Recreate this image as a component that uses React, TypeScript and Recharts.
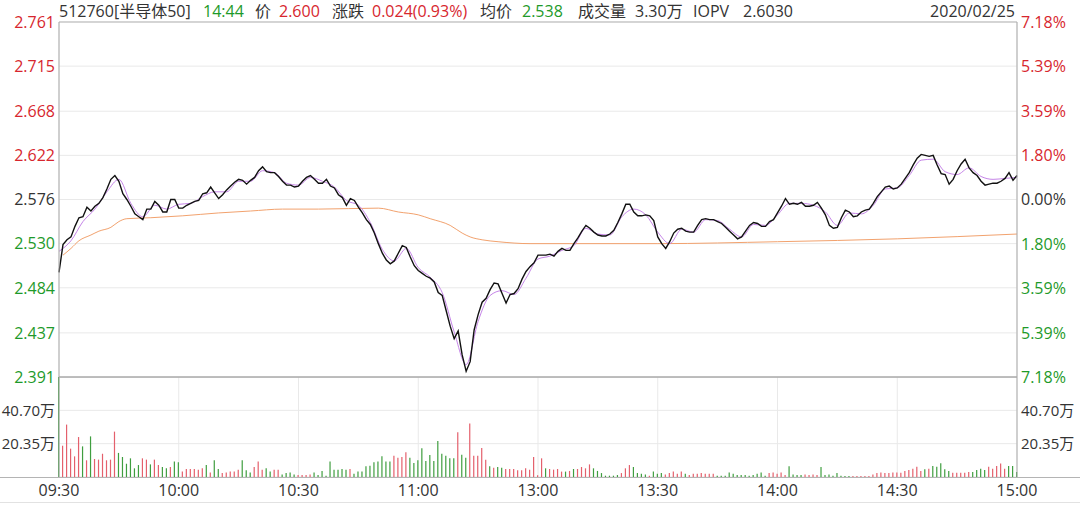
import React from "react";
import {
  ComposedChart,
  Line,
  Bar,
  Cell,
  XAxis,
  YAxis,
  CartesianGrid,
  ReferenceLine,
} from "recharts";

// 颜色
const RED = "#d7262e";
const GREEN = "#1e9a2a";
const GRAY = "#333333";
const BAR_RED = "#e4606c";
const BAR_GREEN = "#3f9e3f";

const preClose = 2.576;

// 标题栏
const headerTexts = ["512760[半导体50]", "14:44", "价", "2.600", "涨跌", "0.024(0.93%)", "均价", "2.538", "成交量", "3.30万", "IOPV", "2.6030"];
const headerColors = [GRAY, GREEN, GRAY, RED, GRAY, RED, GRAY, GREEN, GRAY, GRAY, GRAY, GRAY];
const dateText = "2020/02/25";
// 标题各项左边位置 (px)
const headerLeft = [59, 203, 255, 279, 332, 372, 480, 522, 578, 635, 693, 743];

// 坐标轴
const timeTicks = [0, 30, 60, 90, 120, 150, 180, 210, 240];
const timeLabels = ["09:30", "10:00", "10:30", "11:00", "13:00", "13:30", "14:00", "14:30", "15:00"];
const priceTicks = [2.391, 2.437, 2.484, 2.53, 2.576, 2.622, 2.668, 2.715, 2.761];
const pctTicks = [-7.18, -5.39, -3.59, -1.8, 0, 1.8, 3.59, 5.39, 7.18];
const volTicks = [20.35, 40.7];

// 每分钟价格 (09:30 ~ 15:00, 241 个点)
const prices = [
  2.500, 2.529, 2.534, 2.537, 2.548, 2.557, 2.558, 2.568, 2.564, 2.569,
  2.572, 2.578, 2.587, 2.597, 2.601, 2.595, 2.582, 2.576, 2.569, 2.561,
  2.558, 2.555, 2.566, 2.566, 2.574, 2.570, 2.563, 2.563, 2.576, 2.576,
  2.567, 2.567, 2.570, 2.572, 2.574, 2.575, 2.582, 2.583, 2.589, 2.583,
  2.577, 2.581, 2.586, 2.590, 2.594, 2.597, 2.596, 2.592, 2.596, 2.599,
  2.606, 2.610, 2.605, 2.604, 2.604, 2.600, 2.595, 2.591, 2.591, 2.589,
  2.590, 2.595, 2.599, 2.601, 2.597, 2.593, 2.593, 2.597, 2.590, 2.588,
  2.581, 2.578, 2.570, 2.577, 2.575, 2.568, 2.562, 2.555, 2.550, 2.541,
  2.530, 2.520, 2.513, 2.509, 2.512, 2.520, 2.528, 2.526, 2.516, 2.507,
  2.502, 2.499, 2.496, 2.494, 2.490, 2.479, 2.476, 2.460, 2.444, 2.431,
  2.439, 2.414, 2.397, 2.407, 2.440, 2.456, 2.469, 2.473, 2.482, 2.489,
  2.488, 2.478, 2.468, 2.477, 2.478, 2.483, 2.493, 2.501, 2.506, 2.510,
  2.518, 2.518, 2.518, 2.519, 2.517, 2.522, 2.525, 2.523, 2.523, 2.530,
  2.536, 2.543, 2.549, 2.546, 2.542, 2.539, 2.538, 2.538, 2.540, 2.544,
  2.552, 2.561, 2.571, 2.571, 2.563, 2.559, 2.559, 2.560, 2.559, 2.554,
  2.537, 2.530, 2.525, 2.532, 2.541, 2.545, 2.546, 2.543, 2.542, 2.542,
  2.549, 2.555, 2.556, 2.555, 2.555, 2.553, 2.551, 2.547, 2.543, 2.539,
  2.535, 2.537, 2.543, 2.549, 2.552, 2.551, 2.548, 2.548, 2.553, 2.555,
  2.562, 2.569, 2.577, 2.571, 2.572, 2.571, 2.573, 2.569, 2.569, 2.570,
  2.573, 2.567, 2.560, 2.549, 2.546, 2.547, 2.557, 2.565, 2.563, 2.558,
  2.559, 2.563, 2.565, 2.566, 2.572, 2.579, 2.584, 2.589, 2.590, 2.587,
  2.588, 2.592, 2.598, 2.604, 2.612, 2.619, 2.623, 2.622, 2.621, 2.622,
  2.612, 2.603, 2.602, 2.592, 2.597, 2.606, 2.613, 2.618, 2.609, 2.604,
  2.601, 2.595, 2.591, 2.592, 2.593, 2.593, 2.595, 2.598, 2.604, 2.596,
  2.601,
];

// IOPV 线 (每 3 分钟读一次)
const iopvValues = [
  2.522, 2.533, 2.553, 2.566, 2.584, 2.597, 2.572, 2.558, 2.570, 2.566,
  2.571, 2.572, 2.579, 2.584, 2.584, 2.595, 2.595, 2.606, 2.604, 2.593,
  2.591, 2.599, 2.595, 2.589, 2.575, 2.570, 2.552, 2.524, 2.512, 2.525,
  2.505, 2.495, 2.479, 2.438, 2.404, 2.449, 2.476, 2.481, 2.477, 2.494,
  2.514, 2.517, 2.523, 2.528, 2.546, 2.540, 2.539, 2.558, 2.566, 2.560,
  2.542, 2.530, 2.545, 2.542, 2.555, 2.554, 2.545, 2.537, 2.550, 2.549,
  2.560, 2.572, 2.572, 2.570, 2.563, 2.549, 2.562, 2.561, 2.570, 2.587,
  2.588, 2.601, 2.617, 2.618, 2.605, 2.602, 2.609, 2.600, 2.597, 2.598,
  2.599,
];

// 均价线
const avgTimes = [1, 3, 5, 8, 10, 13, 15, 17, 23, 31, 40, 48, 56, 65, 80, 85, 90, 93, 98, 101, 103, 106, 110, 118, 128, 150, 180, 210, 240];
const avgValues = [2.518, 2.525, 2.533, 2.539, 2.543, 2.547, 2.553, 2.556, 2.557, 2.559, 2.562, 2.564, 2.566, 2.566, 2.567, 2.563, 2.560, 2.556, 2.549, 2.541, 2.537, 2.534, 2.532, 2.530, 2.530, 2.530, 2.532, 2.535, 2.540];

// 每分钟成交量 (万)
const volumes = [
  61.0, 19.1, 32.0, 17.3, 12.6, 24.4, 18.7, 10.2, 24.8, 11.0,
  10.6, 14.2, 10.2, 10.6, 27.7, 14.7, 12.2, 8.1, 11.4, 5.3,
  7.3, 11.4, 10.6, 7.7, 10.6, 7.3, 6.1, 5.3, 6.1, 9.4,
  9.0, 3.3, 4.9, 4.9, 4.9, 4.5, 5.3, 7.3, 2.8, 10.2,
  4.9, 2.4, 2.8, 3.3, 3.3, 4.5, 10.2, 4.1, 2.8, 6.1,
  9.4, 4.5, 5.3, 3.3, 4.5, 4.5, 1.6, 2.4, 2.8, 1.6,
  1.2, 1.2, 1.2, 1.6, 2.8, 1.2, 3.7, 0.8, 9.4, 4.5,
  4.5, 4.9, 4.5, 4.9, 2.0, 3.3, 3.3, 6.5, 6.9, 9.0,
  9.4, 12.6, 9.4, 9.4, 13.0, 11.8, 12.2, 15.1, 11.8, 8.5,
  10.2, 17.5, 9.8, 13.4, 9.8, 22.0, 14.2, 13.0, 11.4, 11.4,
  27.3, 13.6, 11.8, 32.6, 13.0, 13.0, 17.7, 10.6, 6.5, 5.7,
  6.1, 5.7, 4.9, 4.9, 4.9, 4.1, 4.1, 5.3, 4.5, 12.2,
  1.0, 11.4, 5.3, 4.9, 4.5, 4.9, 3.3, 3.3, 3.7, 4.9,
  4.9, 6.1, 5.3, 7.7, 5.3, 3.7, 2.4, 0.8, 0.8, 0.8,
  1.2, 2.4, 5.3, 7.3, 6.1, 2.4, 2.0, 1.6, 0.8, 3.3,
  2.0, 2.4, 1.6, 2.4, 3.3, 2.0, 3.3, 2.0, 1.2, 2.0,
  2.0, 2.4, 2.0, 2.0, 2.0, 0.8, 0.8, 0.8, 2.8, 2.0,
  1.2, 1.2, 1.2, 0.8, 1.2, 2.0, 2.8, 0.8, 2.4, 2.8,
  2.0, 2.8, 1.2, 6.5, 1.6, 1.2, 1.2, 1.6, 1.2, 1.6,
  1.2, 6.1, 1.2, 1.6, 0.8, 2.4, 0.8, 0.6, 0.6, 0.6,
  0.6, 0.6, 0.6, 0.6, 1.6, 2.4, 2.8, 2.4, 2.4, 2.8,
  2.8, 2.6, 3.7, 4.3, 5.1, 6.3, 3.7, 4.7, 5.1, 6.7,
  6.3, 8.4, 4.7, 3.7, 2.6, 2.6, 2.6, 2.6, 3.0, 3.0,
  4.3, 5.1, 4.3, 6.3, 5.1, 6.7, 8.2, 5.1, 6.7, 6.7,
  3.0,
];

// 涨(r) / 跌(g)
const volSide = [
  "g", "rrrrr", "g", "r", "g", "rrrrrr", "gggggg", "rr", "g", "rr", "gg", "r", "gg",
  "rrrrrr", "g", "r", "gg", "rrrrr", "ggg", "rrr", "gg", "rr", "gggg", "rrrr",
  "ggggggggg", "r", "gggggggggg", "rrrr", "gggggggggggg", "r", "gg", "rrrrr", "g", "r", "gg",
  "rrrrrrrrrr", "g", "rrrr", "g", "r", "g", "rrrr", "ggggggg", "rrr", "gggg", "r", "ggg",
  "rrrrr", "g", "rrrrrrr", "ggggggggggggg", "rrrrr", "gggg", "rrrr", "gggggggg",
  "rrrrrrrrrrrr", "rrrrrr", "g", "r", "ggggg", "rrrrr", "gggg", "rrrrr", "ggg",
].join("");

const priceData = prices.map((price, m) => ({ m, price }));
const iopvData = iopvValues.map((iopv, i) => ({ m: i * 3, iopv }));
const avgData = avgTimes.map((m, i) => ({ m, avg: avgValues[i] }));
const volData = volumes.map((vol, m) => ({ m, vol }));

const FONT = '"Open Sans", "Noto Sans CJK SC", sans-serif';

const PriceTick = (props: any) => {
  const { x, y, payload } = props;
  const v = payload.value;
  const color = v > preClose + 1e-6 ? RED : v < preClose - 1e-6 ? GREEN : GRAY;
  return (
    <text x={x} y={y} dy="0.36em" textAnchor="end" fill={color} fontSize={16}>
      {v.toFixed(3)}
    </text>
  );
};

const PctTick = (props: any) => {
  const { x, y, payload } = props;
  const v = payload.value;
  const color = v > 0 ? RED : v < 0 ? GREEN : GRAY;
  return (
    <text x={x} y={y} dy="0.36em" textAnchor="start" fill={color} fontSize={16}>
      {Math.abs(v).toFixed(2) + "%"}
    </text>
  );
};

const VolTick = (props: any) => {
  const { x, y, payload, anchor } = props;
  return (
    <text x={x} y={y} dy="0.36em" textAnchor={anchor} fill={GRAY} fontSize={15}>
      {payload.value.toFixed(2) + "万"}
    </text>
  );
};

export default function App() {
  return (
    <div
      style={{
        position: "absolute",
        top: 0,
        left: 0,
        width: 1080,
        height: 506,
        background: "#fff",
        fontFamily: FONT,
        overflow: "hidden",
      }}
    >
      {/* 成交量 */}
      <div style={{ position: "absolute", top: 377, left: 0 }}>
        <ComposedChart width={1080} height={129} data={volData} margin={{ top: 0, right: 0, left: 0, bottom: 0 }}>
          <CartesianGrid stroke="#e9e9e9" yAxisId="v" />
          <XAxis
            dataKey="m"
            type="number"
            domain={[0, 240]}
            ticks={timeTicks}
            interval={0}
            height={29}
            tickLine={false}
            axisLine={false}
            tick={{ fill: GRAY, fontSize: 16 }}
            tickFormatter={(v: number) => timeLabels[timeTicks.indexOf(v)]}
          />
          <YAxis
            yAxisId="v"
            domain={[0, 61.05]}
            ticks={volTicks}
            interval={0}
            width={59}
            tickSize={2}
            tickMargin={2}
            tickLine={false}
            axisLine={{ stroke: "#aaa" }}
            tick={<VolTick anchor="end" />}
            allowDataOverflow
          />
          <YAxis
            yAxisId="v2"
            orientation="right"
            domain={[0, 61.05]}
            ticks={volTicks}
            interval={0}
            width={63}
            tickSize={2}
            tickMargin={2}
            tickLine={false}
            axisLine={{ stroke: "#aaa" }}
            tick={<VolTick anchor="start" />}
            allowDataOverflow
          />
          <Bar yAxisId="v" dataKey="vol" barSize={1.2} isAnimationActive={false}>
            {volData.map((d, i) => (
              <Cell key={i} fill={volSide[i] === "g" ? BAR_GREEN : BAR_RED} />
            ))}
          </Bar>
        </ComposedChart>
      </div>

      {/* 分时价格 */}
      <div style={{ position: "absolute", top: 0, left: 0 }}>
        <ComposedChart width={1080} height={392} data={priceData} margin={{ top: 22, right: 0, left: 0, bottom: 14 }}>
          <CartesianGrid stroke="#e9e9e9" yAxisId="p" />
          <XAxis
            dataKey="m"
            type="number"
            domain={[0, 240]}
            ticks={timeTicks}
            tick={false}
            tickLine={false}
            height={1}
            axisLine={{ stroke: "#888" }}
          />
          <YAxis
            yAxisId="p"
            domain={[2.391, 2.761]}
            ticks={priceTicks}
            interval={0}
            width={59}
            tickSize={2}
            tickMargin={2}
            tickLine={false}
            axisLine={{ stroke: "#aaa" }}
            tick={<PriceTick />}
            allowDataOverflow
          />
          <YAxis
            yAxisId="pct"
            orientation="right"
            domain={[-7.18, 7.18]}
            ticks={pctTicks}
            interval={0}
            width={63}
            tickSize={2}
            tickMargin={2}
            tickLine={false}
            axisLine={{ stroke: "#aaa" }}
            tick={<PctTick />}
            allowDataOverflow
          />
          <ReferenceLine yAxisId="p" y={2.761} stroke="#b5b5b5" />
          <Line
            yAxisId="p"
            data={avgData}
            dataKey="avg"
            type="monotone"
            stroke="#f2a26e"
            strokeWidth={1}
            dot={false}
            isAnimationActive={false}
          />
          <Line
            yAxisId="p"
            data={iopvData}
            dataKey="iopv"
            type="monotone"
            stroke="#c584e8"
            strokeWidth={1}
            dot={false}
            isAnimationActive={false}
          />
          <Line
            yAxisId="p"
            dataKey="price"
            type="linear"
            stroke="#111"
            strokeWidth={1.4}
            dot={false}
            isAnimationActive={false}
          />
        </ComposedChart>
      </div>

      {/* 标题 */}
      {headerTexts.map((t, i) => (
        <div
          key={i}
          style={{
            position: "absolute",
            top: 0,
            left: headerLeft[i],
            height: 22,
            lineHeight: "22px",
            fontSize: 16,
            whiteSpace: "nowrap",
            color: headerColors[i],
          }}
        >
          {t}
        </div>
      ))}
      <div
        style={{
          position: "absolute",
          top: 0,
          right: 65,
          height: 22,
          lineHeight: "22px",
          fontSize: 16,
          color: GRAY,
        }}
      >
        {dateText}
      </div>

      {/* 底部分隔线 */}
      <div style={{ position: "absolute", top: 477, left: 0, width: 1080, height: 1, background: "#b4b4b4" }} />
      <div style={{ position: "absolute", top: 502, left: 0, width: 1080, height: 1, background: "#e2e2e2" }} />
    </div>
  );
}
